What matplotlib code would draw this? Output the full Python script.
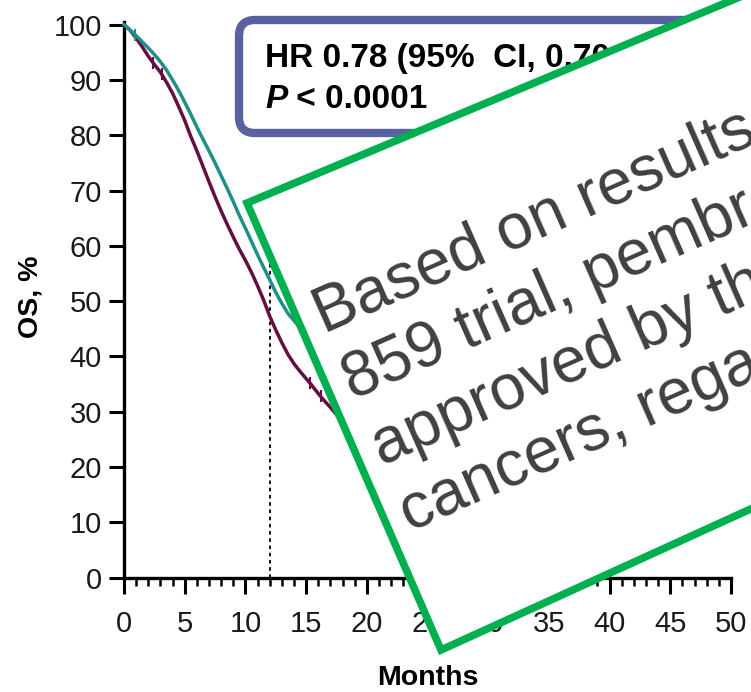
import matplotlib
matplotlib.use("Agg")
import matplotlib.pyplot as plt
import numpy as np
from matplotlib import font_manager
from matplotlib.patches import FancyBboxPatch, Polygon
from matplotlib.text import Annotation
from matplotlib.transforms import Affine2D
from matplotlib.ticker import MultipleLocator

# OS (%) by month
months = [0, 0.5, 1, 1.5, 2, 2.5, 3, 3.5, 4, 4.5, 5, 5.5, 6, 6.5, 7, 7.5, 8, 8.5, 9, 9.5,
          10, 10.5, 11, 11.5, 12, 12.5, 13, 13.5, 14, 14.5, 15, 15.5, 16, 16.5, 17, 17.5,
          18, 18.5, 19, 19.5, 20]
os_pembro = [100, 99.0, 98.0, 96.9, 95.8, 94.6, 93.3, 91.8, 90.0, 88.1, 86.0, 83.8, 81.5,
             79.3, 77.2, 75.0, 72.7, 70.4, 68.0, 65.5, 63.2, 60.8, 58.4, 56.1, 53.9, 51.6,
             49.6, 47.8, 46.5, 45.2, 44.0, 42.9, 41.8, 40.8, 39.8, 38.8, 37.9, 37.0, 36.1,
             35.3, 34.5]
os_placebo = [100, 99.0, 97.6, 96.0, 94.3, 92.8, 91.4, 89.6, 87.6, 85.2, 82.7, 79.8, 77.2,
              74.4, 71.6, 68.9, 66.3, 63.9, 61.6, 59.4, 57.4, 55.2, 52.8, 50.2, 47.3, 44.8,
              42.5, 40.4, 38.7, 37.3, 36.0, 34.7, 33.3, 32.0, 30.8, 29.5, 28.3, 27.4, 26.5,
              25.7, 25.0]
censor_pembro = [0.9]
censor_placebo = [2.4, 3.1, 15.3, 16.2]
landmark_month = 12
landmark_os = 57

x_ticks = [0, 5, 10, 15, 20, 25, 30, 35, 40, 45, 50]
y_ticks = [0, 10, 20, 30, 40, 50, 60, 70, 80, 90, 100]

hr_text = "HR 0.78 (95%  CI, 0.70\u20130.87)"
p_text = " < 0.0001"
note_lines = ["Based on results", "859 trial, pembrolizumab", "approved by the",
              "cancers, regardless"]

W, H = 751, 692
fig = plt.figure(figsize=(W / 100, H / 100), dpi=100)
# pixel coords, origin top-left
px = Affine2D().scale(1 / W, -1 / H).translate(0, 1) + fig.transFigure

names = {f.name for f in font_manager.fontManager.ttflist}
narrow = 'Liberation Sans Narrow' if 'Liberation Sans Narrow' in names else 'Liberation Sans'
plt.rcParams['font.family'] = ['Liberation Sans', 'DejaVu Sans']

teal = '#1f8f88'
plum = '#640f40'

ax = fig.add_axes([124 / W, 1 - 577.7 / H, 607 / W, 555.8 / H])
ax.plot(landmark_month * np.ones(2), [0, landmark_os], color='black', lw=1.3,
        ls=(0, (2.0, 2.0)), zorder=2)
ax.plot(months, os_placebo, color=plum, lw=2.5, zorder=3, clip_on=False)
ax.plot(months, os_pembro, color=teal, lw=2.5, zorder=4, clip_on=False)
ax.plot(censor_placebo, np.interp(censor_placebo, months, os_placebo), ls='none',
        marker='|', ms=9, mew=1.5, color=plum, zorder=3)
ax.plot(censor_pembro, np.interp(censor_pembro, months, os_pembro), ls='none',
        marker='|', ms=9, mew=1.5, color=teal, zorder=4)

ax.set_xlim(0, 50)
ax.set_ylim(0, 100.5)
ax.set_xticks(x_ticks)
ax.set_yticks(y_ticks)
ax.xaxis.set_minor_locator(MultipleLocator(1))
for s in ['top', 'right']:
    ax.spines[s].set_visible(False)
for s in ['left', 'bottom']:
    ax.spines[s].set_linewidth(2.4)
ax.tick_params(axis='both', which='major', width=2.2, labelsize=21,
               labelcolor='#1a1a1a', color='black')
ax.tick_params(axis='x', which='major', length=11.5, pad=12)
ax.tick_params(axis='y', which='major', length=11, pad=5)
ax.tick_params(axis='x', which='minor', length=6, width=1.8)
for lab in ax.get_xticklabels() + ax.get_yticklabels():
    lab.set_fontfamily(narrow)

fig.text(37, 297, 'OS, %', transform=px, rotation=90, rotation_mode='anchor',
         ha='center', va='baseline', fontsize=20.5, fontweight='bold')
fig.text(428, 685, 'Months', transform=px, ha='center', va='baseline',
         fontsize=20.5, fontweight='bold')

# HR / P box
hr_box = FancyBboxPatch((239, 20), 540, 113, boxstyle='round,pad=0,rounding_size=16',
                        transform=px, fc='white', ec='#5a61a0', lw=6, zorder=5)
fig.add_artist(hr_box)
fig.text(265, 67, hr_text, transform=px, fontsize=24, fontweight='bold',
         ha='left', va='baseline', zorder=6)
p_lab = fig.text(265, 108, 'P', transform=px, fontsize=24, fontweight='bold',
                 fontstyle='italic', ha='left', va='baseline', zorder=6)
fig.add_artist(Annotation(p_text, xy=(1, 0), xycoords=p_lab, ha='left', va='bottom',
                          fontsize=24, fontweight='bold', zorder=6))

# tilted note box
note_box = Polygon([(247, 203), (900, -70), (900, 441), (441, 650)], closed=True,
                   transform=px, fc='white', ec='#00b050', lw=5.5, joinstyle='miter',
                   zorder=10)
fig.add_artist(note_box)
for i, line in enumerate(note_lines):
    fig.text(324 + 28.7 * i, 334 + 66 * i, line, transform=px, rotation=23.8,
             rotation_mode='anchor', ha='left', va='baseline', fontsize=46,
             color='#404040', zorder=11)

plt.savefig('out.png', dpi=100)
plt.close()
